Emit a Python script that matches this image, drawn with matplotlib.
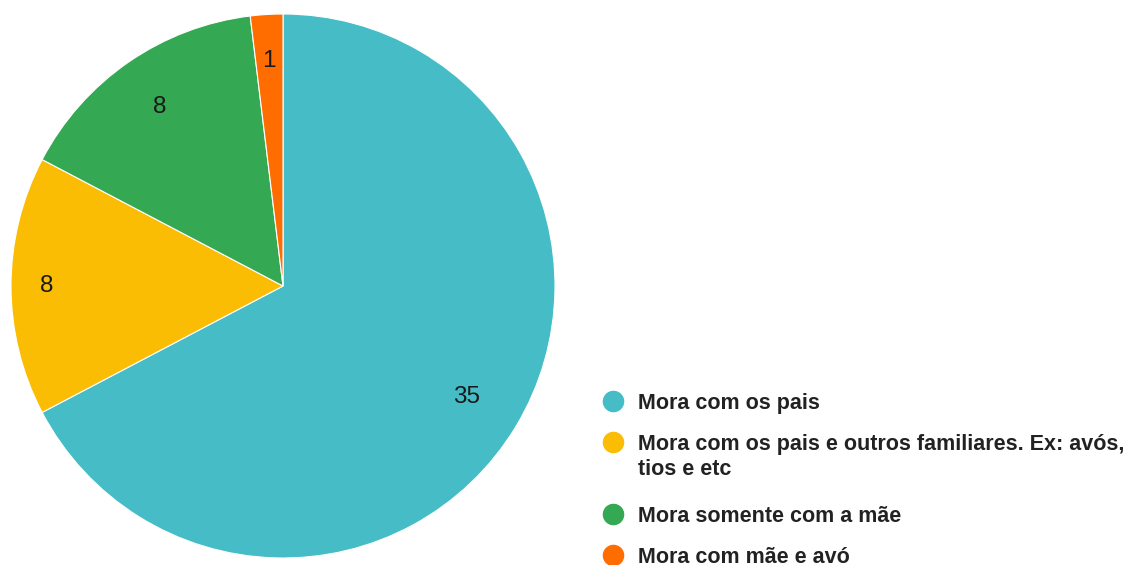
import matplotlib.pyplot as plt
import numpy as np

plt.rcParams['font.family'] = ['Liberation Sans', 'DejaVu Sans']

# Responses
categories = ['Mora com os pais',
              'Mora com os pais e outros familiares. Ex: avós,\ntios e etc',
              'Mora somente com a mãe',
              'Mora com mãe e avó']
counts = [35, 8, 8, 1]
colors = ['#46BDC6', '#FBBC04', '#34A853', '#FF6D01']
label_dist = [0.79, 0.87, 0.80, 0.83]

W, H = 1130, 565
fig = plt.figure(figsize=(W / 100, H / 100), dpi=100)

# pie axes: centre (283, 286) px, radius 272 px
cx, cy, r = 283, 286, 272
ax = fig.add_axes([(cx - r) / W, (H - cy - r) / H, 2 * r / W, 2 * r / H])
wedges, _ = ax.pie(counts, colors=colors, startangle=90, counterclock=False,
                   radius=1, wedgeprops=dict(edgecolor='white', linewidth=0.8))
ax.set_xlim(-1, 1)
ax.set_ylim(-1, 1)
ax.set_aspect('equal')

# value labels inside the slices
for w, n, d in zip(wedges, counts, label_dist):
    ang = np.deg2rad((w.theta1 + w.theta2) / 2)
    ax.text(d * np.cos(ang), d * np.sin(ang), str(n), ha='center',
            va='center', fontsize=17.5, color='#1a1a1a')

# legend drawn in pixel coordinates
lg = fig.add_axes([0, 0, 1, 1])
lg.set_xlim(0, W)
lg.set_ylim(H, 0)
lg.axis('off')
rows = [401, 442, 514, 555]
for y, lab, c in zip(rows, categories, colors):
    lg.plot([613], [y], 'o', color=c, markersize=14.5, clip_on=False)
    for i, line in enumerate(lab.split('\n')):
        lg.text(638, y + 25 * i, line, ha='left', va='center_baseline',
                fontsize=15.5, fontweight='bold', color='#222222')

fig.savefig('out.png', dpi=100)
